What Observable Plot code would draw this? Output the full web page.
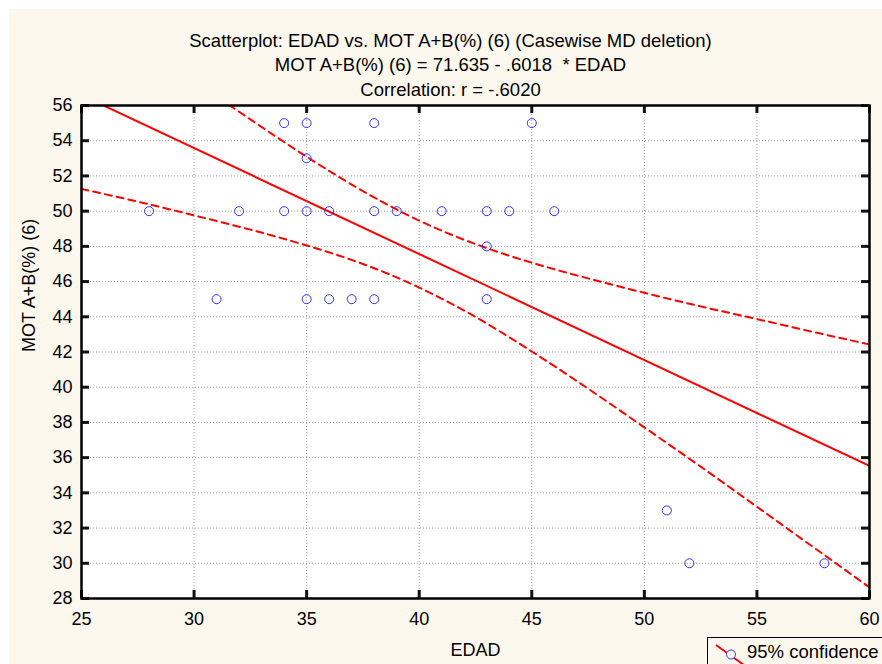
<!DOCTYPE html>
<html>
<head>
<meta charset="utf-8">
<script src="https://cdn.jsdelivr.net/npm/d3@7"></script>
<script src="https://cdn.jsdelivr.net/npm/@observablehq/plot@0.6"></script>
<style>
  html, body { margin: 0; padding: 0; background: #ffffff; overflow: hidden; width: 882px; height: 664px; }
  #wrap { position: absolute; left: 9px; top: 9px; width: 873px; height: 655px; background: #fdf8ee; }
  #legend { position: absolute; left: 707px; top: 637px; width: 200px; height: 40px; border: 1.5px solid #000; background: #fdf8ee;
            font-family: "Liberation Sans", Arial, sans-serif; font-size: 18.5px; white-space: nowrap; }
  #legend svg { position: absolute; left: 6px; top: 4px; }
  #legend span { position: absolute; left: 39px; top: 3px; }
</style>
</head>
<body>
<div id="wrap"></div>
<div id="legend">
  <svg width="34" height="26">
    <line x1="2" y1="3" x2="30" y2="23" stroke="#ff0000" stroke-width="2"></line>
    <circle cx="17" cy="12.5" r="4.5" fill="#fdf8ee" stroke="#3333ff" stroke-width="1"></circle>
  </svg>
  <span>95% confidence</span>
</div>
<script>
// Scatter data (EDAD, MOT A+B(%) (6))
const edad = [28, 31, 32, 34, 34, 35, 35, 35, 35, 36, 36, 37, 38, 38, 38, 39, 41, 43, 43, 43, 44, 45, 46, 51, 52, 58];
const mot  = [50, 45, 50, 55, 50, 55, 53, 50, 45, 50, 45, 45, 55, 50, 45, 50, 50, 50, 48, 45, 50, 55, 50, 33, 30, 30];

// Regression line read at the plot edges
const fitX = [25, 60];
const fitY = [56.59, 35.53];

// 95% confidence band
const bandX = [25, 27.5, 30, 32.5, 35, 37.5, 40, 42.5, 45, 47.5, 50, 52.5, 55, 57.5, 60];
const bandUpper = [61.92, 59.64, 57.40, 55.21, 53.09, 51.14, 49.46, 48.13, 47.07, 46.18, 45.36, 44.59, 43.87, 43.14, 42.43];
const bandLower = [51.26, 50.54, 49.76, 48.95, 48.05, 47.00, 45.66, 43.99, 42.03, 39.92, 37.72, 35.49, 33.21, 30.92, 28.63];

// Ticks
const xTicks = [25, 30, 35, 40, 45, 50, 55, 60];
const yTicks = [28, 30, 32, 34, 36, 38, 40, 42, 44, 46, 48, 50, 52, 54, 56];
const xGrid = [30, 35, 40, 45, 50, 55];
const yGrid = [30, 32, 34, 36, 38, 40, 42, 44, 46, 48, 50, 52, 54];

const titleLines = [
  "Scatterplot: EDAD vs. MOT A+B(%) (6) (Casewise MD deletion)",
  "MOT A+B(%) (6) = 71.635 - .6018  * EDAD",
  "Correlation: r = -.6020"
];
const xLabel = "EDAD";
const yLabel = "MOT A+B(%) (6)";

const points = edad.map((x, i) => ({x, y: mot[i]}));
const fit = fitX.map((x, i) => ({x, y: fitY[i]}));
const upper = bandX.map((x, i) => ({x, y: bandUpper[i]}));
const lower = bandX.map((x, i) => ({x, y: bandLower[i]}));

const W = 873, H = 655;
const mL = 72, mT = 96, mR = 13, mB = 66;
const pw = W - mL - mR, ph = H - mT - mB;
const TL = 8; // inward tick length
const font = "Liberation Sans, Arial, sans-serif";

const chart = Plot.plot({
  width: W, height: H,
  marginLeft: mL, marginTop: mT, marginRight: mR, marginBottom: mB,
  style: {background: "transparent", fontFamily: font, fontSize: "18px", color: "#000"},
  x: {domain: [25, 60], axis: null},
  y: {domain: [28, 56], axis: null},
  marks: [
    Plot.frame({fill: "#ffffff", stroke: null}),
    Plot.gridX(xGrid, {stroke: "#a0a0a0", strokeOpacity: 1, strokeDasharray: "1,2"}),
    Plot.gridY(yGrid, {stroke: "#a0a0a0", strokeOpacity: 1, strokeDasharray: "1,2"}),
    Plot.line(upper, {x: "x", y: "y", curve: "natural", stroke: "#ff0000", strokeWidth: 2, strokeDasharray: "7,5", clip: true}),
    Plot.line(lower, {x: "x", y: "y", curve: "natural", stroke: "#ff0000", strokeWidth: 2, strokeDasharray: "7,5", clip: true}),
    Plot.line(fit, {x: "x", y: "y", stroke: "#ff0000", strokeWidth: 2, clip: true}),
    Plot.dot(points, {x: "x", y: "y", r: 4.5, stroke: "#3333ff", strokeWidth: 1, fill: "none"}),
    // inward tick marks on all four sides
    Plot.tickX(xTicks, {x: d => d, stroke: "#111", strokeWidth: 3, insetBottom: ph - TL}),
    Plot.tickX(xTicks, {x: d => d, stroke: "#111", strokeWidth: 3, insetTop: ph - TL}),
    Plot.tickY(yTicks, {y: d => d, stroke: "#111", strokeWidth: 3, insetRight: pw - TL}),
    Plot.tickY(yTicks, {y: d => d, stroke: "#111", strokeWidth: 3, insetLeft: pw - TL}),
    // tick labels
    Plot.axisX(xTicks, {anchor: "bottom", tickSize: 0, tickPadding: 14, fontSize: 18, tickFormat: d => String(d), label: null}),
    Plot.axisY(yTicks, {anchor: "left", tickSize: 0, tickPadding: 9, fontSize: 18, tickFormat: d => String(d), label: null}),
    Plot.frame({stroke: "#000", strokeWidth: 2.5}),
    Plot.text([xLabel], {frameAnchor: "bottom", dy: 57, fontSize: 18, text: d => d}),
    Plot.text([yLabel], {frameAnchor: "left", dx: -52, rotate: -90, fontSize: 18, text: d => d}),
    Plot.text([titleLines[0]], {frameAnchor: "top", dx: -25, dy: -71.5, fontSize: 18.5, text: d => d}),
    Plot.text([titleLines[1]], {frameAnchor: "top", dx: -25, dy: -47.5, fontSize: 18.5, text: d => d}),
    Plot.text([titleLines[2]], {frameAnchor: "top", dx: -25, dy: -22.5, fontSize: 18.5, text: d => d})
  ]
});
document.getElementById("wrap").appendChild(chart);
</script>
</body>
</html>
